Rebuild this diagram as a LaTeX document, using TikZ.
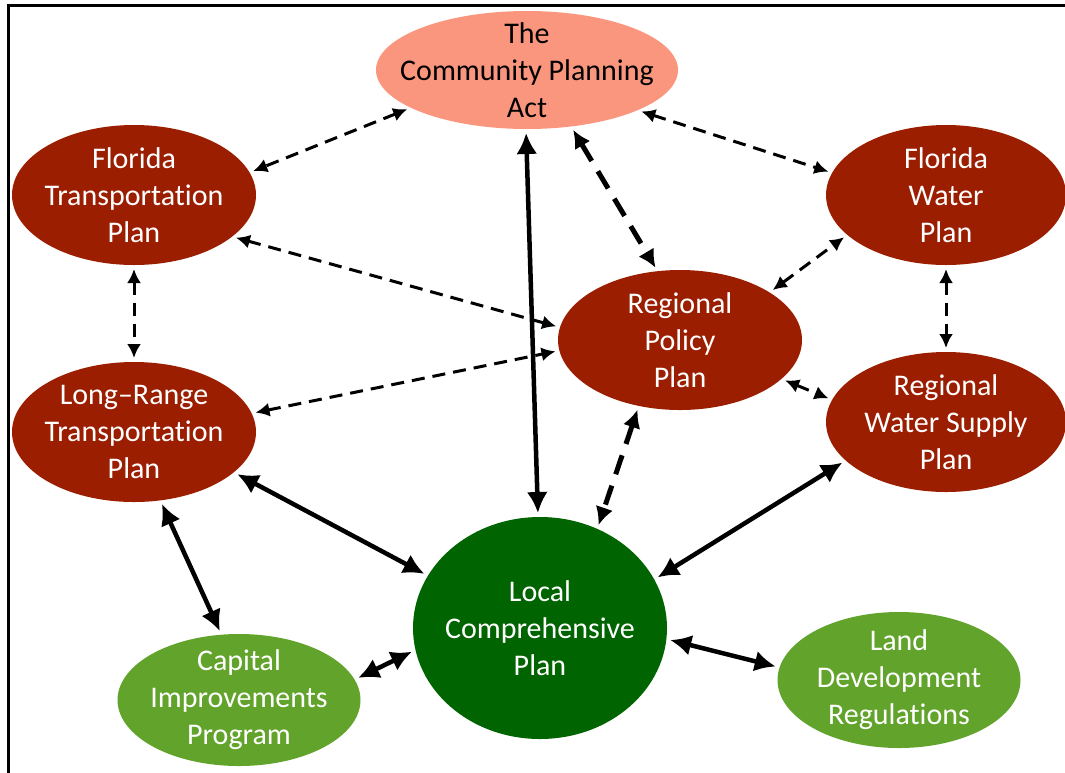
\documentclass[tikz,border=0pt]{standalone}
\usepackage{fontspec}
\setmainfont{Carlito}[Ligatures={TeX,NoCommon}]
\usetikzlibrary{arrows.meta,shapes.geometric}
\definecolor{salmon}{RGB}{250,150,126}
\definecolor{darkred}{RGB}{155,30,0}
\definecolor{dgreen}{RGB}{0,100,0}
\definecolor{lgreen}{RGB}{98,163,43}
\tikzset{
  txt/.style={align=center, inner sep=0pt, font=\fontsize{30}{37}\selectfont},
  lab/.style n args={2}{label={[txt,text=#1]center:{#2}}},
  ell/.style={ellipse, inner sep=0pt, outer sep=0pt},
  redell/.style={ell, fill=darkred, minimum width=244pt, minimum height=140pt},
  solidarr/.style={line width=4.5pt, {Latex[length=21pt,width=21pt]}-{Latex[length=21pt,width=21pt]}, shorten <=4pt, shorten >=4pt},
  thindash/.style={line width=3pt, dash pattern=on 13pt off 8pt, {Latex[length=14pt,width=14pt]}-{Latex[length=14pt,width=14pt]}, shorten <=4pt, shorten >=4pt},
  thickdash/.style={line width=5pt, dash pattern=on 20pt off 12pt, {Latex[length=18pt,width=18pt]}-{Latex[length=18pt,width=18pt]}, shorten <=4pt, shorten >=4pt},
}
\begin{document}
\begin{tikzpicture}[x=1pt,y=-1pt]
\useasboundingbox (0,0) rectangle (1065,772);
\draw[line width=3pt] (8,775) -- (8,5) -- (1068,5);

\node[ell, fill=salmon, minimum width=302pt, minimum height=118pt, lab={black}{The\\Community Planning\\Act}] (cpa) at (527,70) {};
\node[redell, lab={white}{Florida\\Transportation\\Plan}] (ftp) at (134,195) {};
\node[redell, minimum width=240pt, lab={white}{Florida\\Water\\Plan}] (fwp) at (946,195) {};
\node[redell, lab={white}{Regional\\Policy\\Plan}] (rpp) at (680,340) {};
\node[redell, lab={white}{Long–Range\\Transportation\\Plan}] (lrtp) at (134,432) {};
\node[redell, minimum width=240pt, lab={white}{Regional\\Water Supply\\Plan}] (rwsp) at (946,422) {};
\node[ell, fill=dgreen, minimum width=254pt, minimum height=222pt, lab={white}{Local\\Comprehensive\\Plan}] (lcp) at (540,628) {};
\node[ell, fill=lgreen, minimum width=243pt, minimum height=132pt, lab={white}{Capital\\Improvements\\Program}] (cip) at (239,700) {};
\node[ell, fill=lgreen, minimum width=243pt, minimum height=136pt, lab={white}{Land\\Development\\Regulations}] (ldr) at (899,680) {};

\draw[thindash] (cpa.198) -- (ftp.11);
\draw[thindash] (cpa.-20) -- (fwp.169);
\draw[thickdash] (cpa.-52) -- (rpp.108);
\draw[solidarr] (cpa.-91) -- (lcp.91);
\draw[thindash] (ftp.-23) -- (rpp.174);
\draw[thindash] (ftp.-90) -- (lrtp.90);
\draw[thindash] (lrtp.9) -- (rpp.185);
\draw[thindash] (rpp.28) -- (fwp.202);
\draw[thindash] (fwp.-90) -- (rwsp.90);
\draw[thindash] (rpp.-21) -- (rwsp.169);
\draw[thickdash] (rpp.238) -- (lcp.60);
\draw[solidarr] (lrtp.-22) -- (lcp.155);
\draw[solidarr] (rwsp.201) -- (lcp.23);
\draw[solidarr] (lrtp.-69) -- (cip.105);
\draw[solidarr] (cip.10) -- (lcp.190);
\draw[solidarr] (lcp.-5) -- (ldr.174);
\end{tikzpicture}
\end{document}
